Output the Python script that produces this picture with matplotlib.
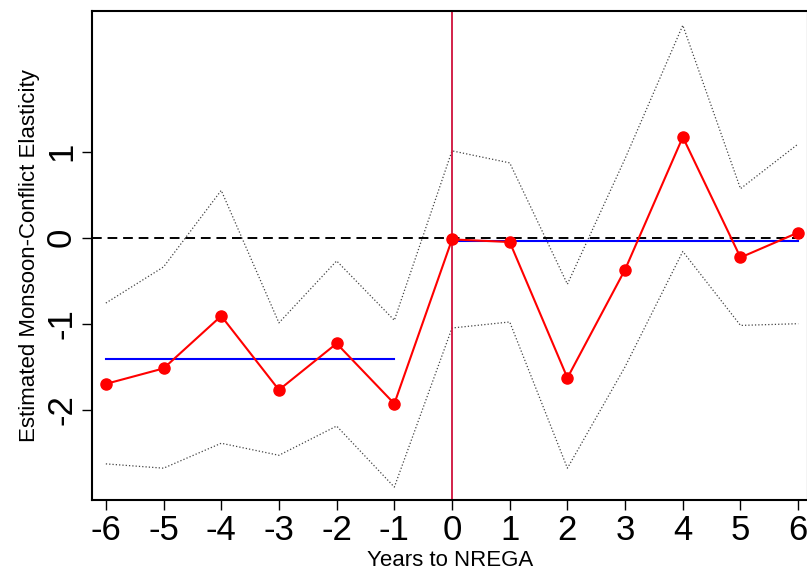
import numpy as np
import matplotlib
matplotlib.use("Agg")
import matplotlib.pyplot as plt

## Data
years = [-6, -5, -4, -3, -2, -1, 0, 1, 2, 3, 4, 5, 6]
estimate = [-1.70, -1.52, -0.91, -1.77, -1.23, -1.93, -0.02, -0.05, -1.63, -0.37, 1.17, -0.23, 0.06]
upper_ci = [-0.76, -0.34, 0.55, -0.99, -0.27, -0.96, 1.01, 0.87, -0.54, 0.92, 2.47, 0.57, 1.09]
lower_ci = [-2.63, -2.68, -2.39, -2.53, -2.19, -2.90, -1.05, -0.98, -2.68, -1.50, -0.16, -1.02, -1.00]
pre_mean = -1.41   # average before NREGA
post_mean = -0.04  # average after NREGA
xticks = years
yticks = [-2, -1, 0, 1]

plt.rcParams['font.family'] = ['Liberation Sans', 'DejaVu Sans']

fig = plt.figure(figsize=(8.07, 5.76), dpi=100)
ax = fig.add_axes([92/807, 76/576, 716/807, 489/576])

# confidence bands
ax.plot(years, upper_ci, color='#444444', linestyle=':', linewidth=0.9)
ax.plot(years, lower_ci, color='#444444', linestyle=':', linewidth=0.9)

# zero line and NREGA start
ax.axhline(0, color='black', linestyle=(0, (5, 3)), linewidth=1.4)
ax.axvline(0, color='#D0103A', linewidth=1.3)

# pre / post averages
ax.plot([years[0], -1], [pre_mean, pre_mean], color='blue', linewidth=1.5)
ax.plot([0, years[-1]], [post_mean, post_mean], color='blue', linewidth=1.5)

# point estimates
ax.plot(years, estimate, color='red', linewidth=1.5, marker='o', markersize=8, clip_on=False, zorder=5)

ax.set_xlim(-6.24, 6.17)
ax.set_ylim(-3.05, 2.636)
ax.set_xticks(xticks)
ax.set_xticklabels([str(v) for v in xticks], fontsize=25)
ax.set_yticks(yticks)
ax.set_yticklabels([str(v) for v in yticks], fontsize=25, rotation=90, va='center')
ax.tick_params(direction='out', length=7, width=1, pad=3)
ax.tick_params(axis='y', pad=3)

ax.set_xlabel('Years to NREGA', fontsize=16, labelpad=2)
ax.set_ylabel('Estimated Monsoon-Conflict Elasticity', fontsize=16, labelpad=4)

for s in ax.spines.values():
    s.set_linewidth(1.5)

fig.savefig('out.png', dpi=100)
